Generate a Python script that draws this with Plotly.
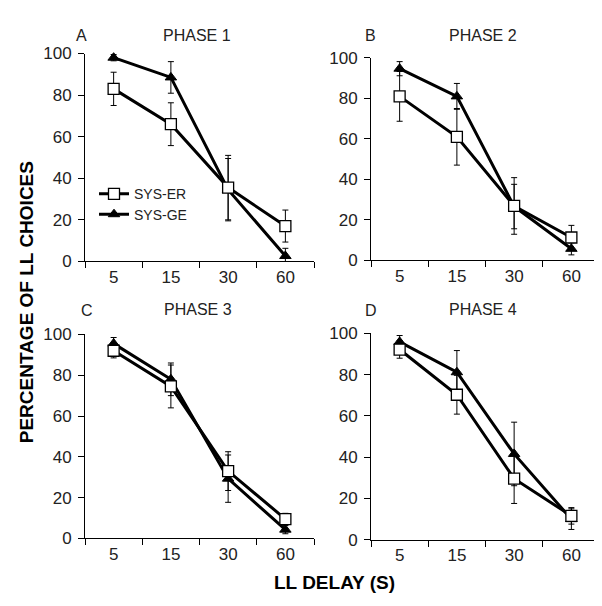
import plotly.graph_objects as go

W, H = 602, 606

delays = ["5", "15", "30", "60"]
yticks = [0, 20, 40, 60, 80, 100]

panel_letters = ["A", "B", "C", "D"]
panel_titles = ["PHASE 1", "PHASE 2", "PHASE 3", "PHASE 4"]

er_A = [83, 66, 35.5, 17]
er_A_err = [8, 10.3, 15.5, 7.7]
ge_A = [98, 88.5, 34.5, 2.6]
ge_A_err = [1.5, 7.6, 15, 3.7]

er_B = [81, 61, 26.8, 11.2]
er_B_err = [12.3, 14, 14, 6]
ge_B = [94.7, 81, 26.5, 5.6]
ge_B_err = [3.5, 6.4, 11, 3]

er_C = [92, 74.5, 33, 9.5]
er_C_err = [3.5, 10.5, 9.5, 2.8]
ge_C = [95.5, 78, 29.3, 4.3]
ge_C_err = [3, 8, 11.6, 2]

er_D = [92.2, 70.3, 29.6, 11.6]
er_D_err = [4.2, 9.4, 12, 4]
ge_D = [95.9, 81.2, 41.6, 10]
ge_D_err = [3.1, 10.5, 15.4, 5]

er_series = [er_A, er_B, er_C, er_D]
er_errs = [er_A_err, er_B_err, er_C_err, er_D_err]
ge_series = [ge_A, ge_B, ge_C, ge_D]
ge_errs = [ge_A_err, ge_B_err, ge_C_err, ge_D_err]

# panel pixel boxes: (x0, x1, ytop, ybottom)
boxes = [(77, 306, 37.7, 252.3), (363, 592, 42.3, 251),
         (77, 306, 327.7, 538.3), (363, 592, 326.7, 539.7)]
letter_pos = [(73.5, 18.7), (362, 18.7), (78.5, 303), (363, 303)]
title_pos = [(189, 18.7), (474.5, 18.7), (190, 301.5), (475, 301.5)]

FONT = "Liberation Sans, Arial, sans-serif"
fig = go.Figure()

for i in range(4):
    sfx = "" if i == 0 else str(i + 1)
    xa, ya = "x" + sfx, "y" + sfx
    fig.add_trace(go.Scatter(
        x=delays, y=ge_series[i], xaxis=xa, yaxis=ya, name="SYS-GE",
        mode="lines+markers", cliponaxis=False,
        line=dict(color="black", width=3),
        marker=dict(symbol="triangle-up", size=10, color="black",
                    line=dict(color="black", width=1)),
        error_y=dict(type="data", array=ge_errs[i], color="black",
                     thickness=1, width=3),
        showlegend=(i == 0), legend="legend2"))
    fig.add_trace(go.Scatter(
        x=delays, y=er_series[i], xaxis=xa, yaxis=ya, name="SYS-ER",
        mode="lines+markers", cliponaxis=False,
        line=dict(color="black", width=3),
        marker=dict(symbol="square", size=11, color="white",
                    line=dict(color="black", width=1.3)),
        error_y=dict(type="data", array=er_errs[i], color="black",
                     thickness=1, width=3),
        showlegend=(i == 0), legend="legend"))

    x0, x1, yt, yb = boxes[i]
    fig.update_layout(**{
        "xaxis" + sfx: dict(
            domain=[x0 / W, x1 / W], anchor=ya, type="category",
            categoryorder="array", categoryarray=delays,
            range=[-0.5, 3.5], tickson="boundaries",
            showline=True, linecolor="black", linewidth=1,
            ticks="outside", ticklen=6, tickcolor="black",
            showgrid=False, zeroline=False,
            tickfont=dict(size=17, color="#222", family=FONT)),
        "yaxis" + sfx: dict(
            domain=[1 - yb / H, 1 - yt / H], anchor=xa,
            range=[0, 100], tickvals=yticks,
            showline=True, linecolor="black", linewidth=1,
            ticks="outside", ticklen=6, tickcolor="black",
            showgrid=False, zeroline=False, ticklabelstandoff=3,
            tickfont=dict(size=17, color="#222", family=FONT)),
    })
    lx, ly = letter_pos[i]
    fig.add_annotation(text=panel_letters[i], xref="paper", yref="paper",
                       x=lx / W, y=1 - ly / H, showarrow=False,
                       xanchor="center", yanchor="middle",
                       font=dict(size=16, color="#222", family=FONT))
    tx, ty = title_pos[i]
    fig.add_annotation(text=panel_titles[i], xref="paper", yref="paper",
                       x=tx / W, y=1 - ty / H, showarrow=False,
                       xanchor="center", yanchor="middle",
                       font=dict(size=16, color="#222", family=FONT))

fig.add_annotation(text="<b>PERCENTAGE OF LL CHOICES</b>", xref="paper",
                   yref="paper", x=18.5 / W, y=1 - 295 / H, textangle=-90,
                   showarrow=False, xanchor="center", yanchor="middle",
                   font=dict(size=19, color="black", family=FONT))
fig.add_annotation(text="<b>LL DELAY (S)</b>", xref="paper", yref="paper",
                   x=327 / W, y=1 - 584 / H, showarrow=False,
                   xanchor="center", yanchor="middle",
                   font=dict(size=19, color="black", family=FONT))

leg_common = dict(xanchor="left", yanchor="middle", bgcolor="rgba(0,0,0,0)",
                  borderwidth=0, font=dict(size=14, color="#222", family=FONT),
                  itemsizing="trace")
fig.update_layout(
    width=W, height=H,
    margin=dict(l=0, r=0, t=0, b=0),
    paper_bgcolor="white", plot_bgcolor="white",
    legend=dict(x=86 / W, y=1 - 183 / H, **leg_common),
    legend2=dict(x=86 / W, y=1 - 204 / H, **leg_common),
)

fig.write_html("out.html")
